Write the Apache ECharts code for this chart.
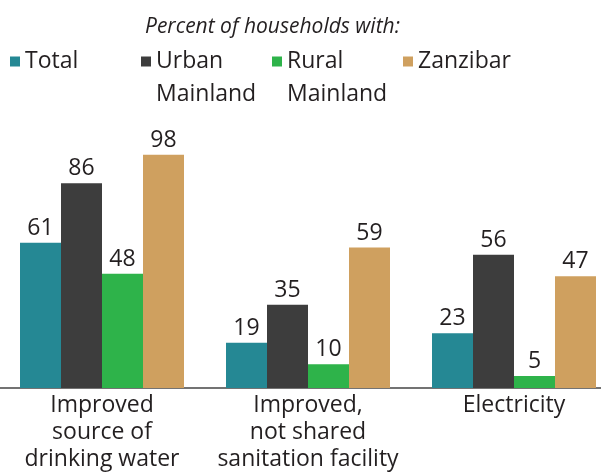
<!DOCTYPE html>
<html>
<head>
<meta charset="utf-8">
<script src="https://cdn.jsdelivr.net/npm/echarts@6/dist/echarts.min.js"></script>
<style>
  html, body { margin: 0; padding: 0; background: #fff; }
  #chart { width: 601px; height: 472px; }
</style>
</head>
<body>
<div id="chart"></div>
<script>
// indicators on the x axis
var categories = ['Improved\nsource of\ndrinking water', 'Improved,\nnot shared\nsanitation facility', 'Electricity']
var seriesNames = ['Total', 'Urban\nMainland', 'Rural\nMainland', 'Zanzibar']
var total = [61, 19, 23]
var urbanMainland = [86, 35, 56]
var ruralMainland = [48, 10, 5]
var zanzibar = [98, 59, 47]
var colors = ['#258894', '#3d3d3d', '#2eb34a', '#cfa05f']

var textColor = '#231f20'
var font = 'Open Sans'

var chart = echarts.init(document.getElementById('chart'), null, { renderer: 'canvas' })

function makeSeries(name, data, color) {
  return {
    name: name,
    type: 'bar',
    data: data,
    barWidth: 41,
    barGap: '0%',
    itemStyle: { color: color },
    label: {
      show: true,
      position: 'top',
      distance: 3,
      color: textColor,
      fontFamily: font,
      fontSize: 23
    },
    animation: false
  }
}

chart.setOption({
  textStyle: { fontFamily: font },
  title: {
    text: 'Percent of households with:',
    left: 145,
    top: 17,
    padding: 0,
    textStyle: {
      fontFamily: font,
      fontStyle: 'italic',
      fontWeight: 'normal',
      fontSize: 21,
      color: textColor
    }
  },
  legend: {
    left: 10,
    top: 12,
    padding: 0,
    itemWidth: 10,
    itemHeight: 10,
    itemGap: 6,
    icon: 'rect',
    // blank line above so the first line of every label sits beside its swatch
    formatter: function (name) {
      return ' \n' + (name.indexOf('\n') < 0 ? name + '\n ' : name)
    },
    textStyle: {
      fontFamily: font,
      fontSize: 23,
      color: textColor,
      lineHeight: 33,
      width: 110
    },
    data: seriesNames
  },
  grid: {
    left: -1,
    top: 150,
    width: 618,
    height: 238,
    containLabel: false,
    outerBoundsMode: 'none'
  },
  xAxis: {
    type: 'category',
    data: categories,
    axisTick: { show: false },
    axisLine: { lineStyle: { color: '#444', width: 1.5 } },
    axisLabel: {
      margin: 4,
      color: textColor,
      fontFamily: font,
      fontSize: 23,
      lineHeight: 27,
      interval: 0
    }
  },
  yAxis: {
    type: 'value',
    min: 0,
    max: 100,
    show: false
  },
  series: [
    makeSeries(seriesNames[0], total, colors[0]),
    makeSeries(seriesNames[1], urbanMainland, colors[1]),
    makeSeries(seriesNames[2], ruralMainland, colors[2]),
    makeSeries(seriesNames[3], zanzibar, colors[3])
  ]
})
</script>
</body>
</html>
